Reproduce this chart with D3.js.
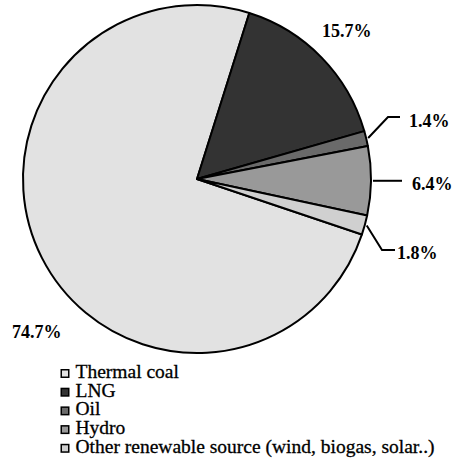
<!DOCTYPE html>
<html>
<head>
<meta charset="utf-8">
<script src="https://cdn.jsdelivr.net/npm/d3@7.9.0/dist/d3.min.js"></script>
<style>
  body { margin: 0; background: #fff; }
</style>
</head>
<body>
<svg id="chart" width="458" height="462"></svg>
<script>
// data
const categories = ['Thermal coal', 'LNG', 'Oil', 'Hydro', 'Other renewable source (wind, biogas, solar..)'];
const shares = [74.7, 15.7, 1.4, 6.4, 1.8];
const colors = ['#e2e2e2', '#333333', '#6a6a6a', '#999999', '#d0d0d0'];

const FONT = '"Liberation Serif", serif';
const svg = d3.select('#chart');
const cx = 197, cy = 179, r = 174;

// thermal coal ends where LNG starts (~17.5deg from 12 o'clock)
const lngStart = 17.5 * Math.PI / 180;
const start = lngStart - 2 * Math.PI * shares[0] / 100;

const pie = d3.pie().sort(null).value(d => d)
  .startAngle(start).endAngle(start + 2 * Math.PI);
const arcs = pie(shares);
const arc = d3.arc().innerRadius(0).outerRadius(r);

const g = svg.append('g').attr('transform', `translate(${cx},${cy})`);
g.selectAll('path')
  .data(arcs)
  .join('path')
  .attr('d', arc)
  .attr('fill', (_, i) => colors[i])
  .attr('stroke', '#000')
  .attr('stroke-width', 2)
  .attr('stroke-linejoin', 'round');

// label placement (relative to pie centre)
const labelLayout = [
  { x: -185, y: 159, leader: null },
  { x: 125, y: -142, leader: null },
  { x: 212, y: -52, leader: [[191, -62], [203, -62]] },
  { x: 215, y: 11, leader: [[205, 4]] },
  { x: 200, y: 80, leader: [[185, 71], [198, 71]] }
];

const pt = (a, rad) => [Math.sin(a) * rad, -Math.cos(a) * rad];

arcs.forEach((d, i) => {
  const L = labelLayout[i];
  if (L.leader) {
    const mid = (d.startAngle + d.endAngle) / 2;
    const p0 = pt(mid, r + 2);
    const pts = [p0].concat(L.leader);
    if (L.leader.length === 1) pts[1] = [L.leader[0][0], p0[1]];
    g.append('path')
      .attr('d', d3.line()(pts))
      .attr('fill', 'none')
      .attr('stroke', '#000')
      .attr('stroke-width', 2);
  }
  g.append('text')
    .attr('x', L.x)
    .attr('y', L.y)
    .style('font-family', FONT)
    .style('font-size', '18px')
    .style('font-weight', 'bold')
    .text(d3.format('.1f')(d.data) + '%');
});

// legend
const legend = svg.append('g').attr('transform', 'translate(60,378)');
const row = legend.selectAll('g')
  .data(categories)
  .join('g')
  .attr('transform', (_, i) => `translate(0,${i * 18.7})`);
row.append('rect')
  .attr('x', 1.25).attr('y', -8.25)
  .attr('width', 7.5).attr('height', 7.5)
  .attr('fill', (_, i) => colors[i])
  .attr('stroke', '#000')
  .attr('stroke-width', 1.5);
row.append('text')
  .attr('x', 15.5)
  .attr('y', 0)
  .style('font-family', FONT)
  .style('font-size', '19.5px')
  .attr('stroke', '#000')
  .attr('stroke-width', 0.3)
  .text(d => d);
</script>
</body>
</html>
